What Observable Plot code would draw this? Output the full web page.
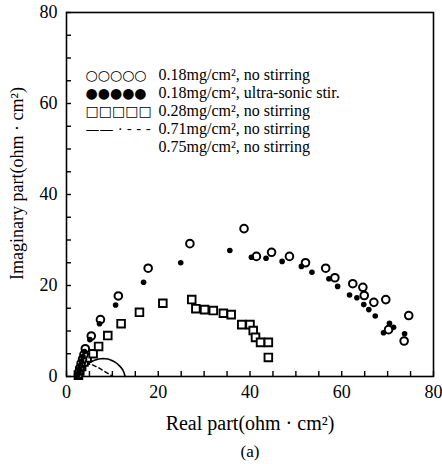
<!DOCTYPE html>
<html>
<head>
<meta charset="utf-8">
<script src="https://cdn.jsdelivr.net/npm/d3@7"></script>
<script src="https://cdn.jsdelivr.net/npm/@observablehq/plot@0.6"></script>
<style>
  html, body { margin: 0; padding: 0; background: #fff; }
  svg { font-family: "Liberation Serif", "DejaVu Serif", serif; }
</style>
</head>
<body>
<div id="chart"></div>
<script>
// 0.18 mg/cm2, no stirring (open circles)
const openX = [2.6, 2.8, 3.0, 3.2, 3.5, 3.8, 4.1, 5.4, 7.4, 11.3, 17.8, 26.9, 38.7, 41.4, 44.7, 48.6, 52.1, 56.5, 58.5, 62.4, 64.6, 64.9, 67.0, 69.6, 70.2, 74.6, 73.6];
const openY = [0.4, 1.2, 2.0, 2.9, 3.8, 4.8, 6.1, 8.9, 12.5, 17.7, 23.8, 29.2, 32.5, 26.4, 27.3, 26.4, 25.0, 23.8, 21.7, 20.4, 19.6, 17.8, 16.3, 16.9, 10.3, 13.4, 7.8];
// 0.18 mg/cm2, ultra-sonic stir. (filled circles)
const fillX = [2.4, 2.7, 2.9, 3.1, 3.3, 3.6, 3.9, 5.1, 7.2, 10.7, 16.8, 24.9, 35.6, 40.3, 43.5, 47.0, 51.2, 53.5, 57.2, 59.1, 61.7, 63.3, 64.8, 65.9, 67.3, 69.1, 70.4, 71.3, 73.7];
const fillY = [0.2, 0.9, 1.7, 2.5, 3.4, 4.4, 5.5, 8.1, 11.6, 15.7, 20.7, 25.0, 27.7, 26.2, 26.0, 25.3, 24.2, 22.9, 21.5, 19.8, 17.9, 17.3, 15.8, 14.7, 13.3, 9.6, 11.7, 10.8, 9.4];
// 0.28 mg/cm2, no stirring (open squares)
const sqX = [2.6, 2.9, 3.3, 3.8, 4.5, 5.8, 7.0, 9.0, 11.9, 15.9, 21.0, 27.3, 28.2, 30.1, 32.0, 34.2, 35.9, 38.2, 40.0, 40.7, 41.2, 42.3, 44.0, 44.0];
const sqY = [0.3, 1.2, 2.2, 3.2, 4.1, 5.0, 6.6, 9.0, 11.6, 14.1, 16.1, 16.9, 14.9, 14.7, 14.5, 13.9, 13.6, 11.4, 11.4, 10.1, 8.6, 7.5, 7.5, 4.2];
// 0.71 mg/cm2 (solid arc)
const arcAX = [2.5, 3.5, 4.5, 5.5, 6.5, 7.5, 8.5, 9.5, 10.5, 11.5, 12.3, 12.8];
const arcAY = [0.0, 1.6, 2.6, 3.3, 3.7, 3.9, 3.9, 3.7, 3.2, 2.4, 1.4, 0.0];
// 0.75 mg/cm2 (dashed arc)
const arcBX = [3.0, 4.0, 5.0, 6.0, 7.0, 8.0, 9.0, 9.8];
const arcBY = [1.6, 2.5, 2.7, 2.4, 1.9, 1.3, 0.7, 0.2];

const xMajor = [0, 20, 40, 60, 80];
const yMajor = [0, 20, 40, 60, 80];
const minorTicks = d3.range(0, 81, 5);

const legendSymbols = ["○○○○○", "●●●●●", "□□□□□", "—— · - - -", ""];
const legendLabels = [
  "0.18mg/cm², no stirring",
  "0.18mg/cm², ultra-sonic stir.",
  "0.28mg/cm², no stirring",
  "0.71mg/cm², no stirring",
  "0.75mg/cm², no stirring"
];
const xLabel = "Real part(ohm · cm²)";
const yLabel = "Imaginary part(ohm · cm²)";
const caption = "(a)";

const pts = (xs, ys) => xs.map((x, i) => ({x, y: ys[i]}));

const chart = Plot.plot({
  width: 442,
  height: 464,
  marginLeft: 66,
  marginRight: 9,
  marginTop: 12,
  marginBottom: 88,
  style: {fontFamily: "'Liberation Serif', serif", color: "#000", background: "#fff", overflow: "visible"},
  x: {domain: [0, 80]},
  y: {domain: [0, 80]},
  marks: [
    Plot.frame({stroke: "#000", strokeWidth: 1.6}),
    Plot.axisX(minorTicks, {tickSize: -5, tickFormat: () => "", strokeWidth: 1.4, label: null}),
    Plot.axisY(minorTicks, {tickSize: -5, tickFormat: () => "", strokeWidth: 1.4, label: null}),
    Plot.axisX(xMajor, {tickSize: 0, tickPadding: 9, fontSize: 18, label: null}),
    Plot.axisY(yMajor, {tickSize: 0, tickPadding: 9, fontSize: 18, label: null}),
    Plot.line(pts(arcAX, arcAY), {x: "x", y: "y", curve: "natural", stroke: "#000", strokeWidth: 1.6}),
    Plot.line(pts(arcBX, arcBY), {x: "x", y: "y", curve: "natural", stroke: "#000", strokeWidth: 1.4, strokeDasharray: "4,3"}),
    Plot.dot(pts(sqX, sqY), {x: "x", y: "y", symbol: "square", r: 4.3, stroke: "#000", strokeWidth: 1.9, fill: "#fff"}),
    Plot.dot(pts(openX, openY), {x: "x", y: "y", r: 3.8, stroke: "#000", strokeWidth: 2, fill: "#fff"}),
    Plot.dot(pts(fillX, fillY), {x: "x", y: "y", r: 2.8, fill: "#000", stroke: "none"}),
    Plot.text([legendSymbols.join("\n")], {frameAnchor: "top-left", dx: 19, dy: 55, textAnchor: "start", lineAnchor: "top", lineHeight: 1.286, fontSize: 14, fontFamily: "DejaVu Sans", fill: "#000"}),
    Plot.text([legendLabels.join("\n")], {frameAnchor: "top-left", dx: 92, dy: 55, textAnchor: "start", lineAnchor: "top", lineHeight: 1.125, fontSize: 16, fill: "#000"}),
    Plot.text([xLabel], {frameAnchor: "bottom", dy: 53, fontSize: 20, fill: "#000"}),
    Plot.text([caption], {frameAnchor: "bottom", dy: 80, fontSize: 17, fill: "#000"}),
    Plot.text([yLabel], {frameAnchor: "left", dx: -49, dy: -11, rotate: -90, textAnchor: "middle", fontSize: 18, fill: "#000"})
  ]
});
document.getElementById("chart").appendChild(chart);
</script>
</body>
</html>
